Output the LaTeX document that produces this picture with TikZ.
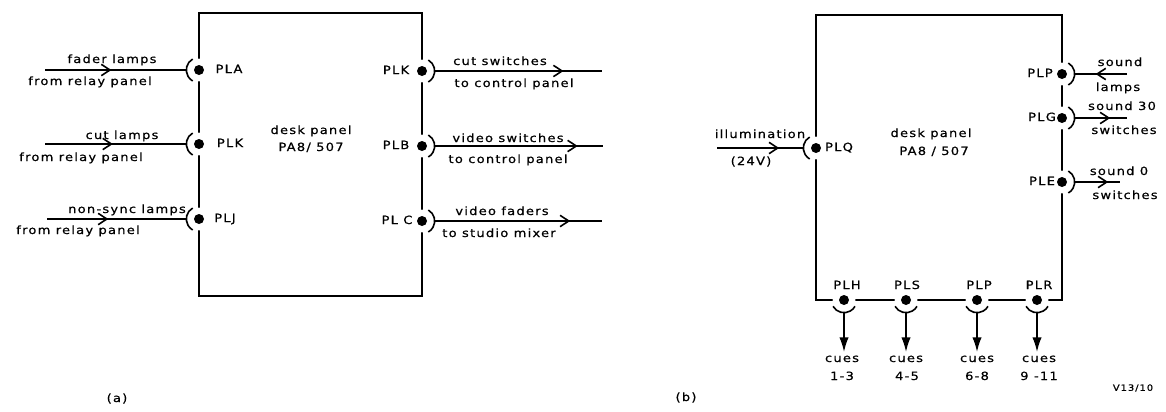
\documentclass[tikz,border=0pt]{standalone}
\usepackage{fontspec}
\newfontfamily\labfont[LetterSpace=11,FakeStretch=1.15,FakeBold=0.6]{DejaVu Sans}
\usetikzlibrary{arrows.meta,decorations.markings,calc}
\tikzset{
  wire/.style={line width=1.2pt},
  plug/.style={circle, fill=black, inner sep=0pt, minimum size=7.5pt, preaction={draw=white, line width=9pt}},
  lbl/.style={font=\labfont\fontsize{8.5}{10}\selectfont, inner sep=0pt, text height=6.5pt, text depth=2pt},
  tiny/.style={font=\labfont\fontsize{6.5}{8}\selectfont, inner sep=0pt},
  arr/.style={postaction={decorate}, decoration={markings, mark=at position #1 with {\arrow{Straight Barb[length=6.5pt,width=8.5pt,line width=1.2pt]}}}},
  downarr/.style={-{Latex[length=11pt,width=7pt]}},
  panel/.style={draw, line width=1.2pt, inner sep=0pt},
}
\begin{document}
\begin{tikzpicture}[x=0.75pt,y=0.75pt]
\useasboundingbox (0,0) rectangle (1166,-411);

% ---------- (a) ----------
\node[panel, minimum width=167.25pt, minimum height=212.25pt] (boxa) at (310.5,-154.5) {};
\node[plug] (pla) at (199,-70) {};
\node[plug] (plka) at (199,-144) {};
\node[plug] (plj) at (199,-219) {};
\node[plug] (plkb) at (422,-71) {};
\node[plug] (plb) at (422,-146) {};
\node[plug] (plc) at (422,-221) {};

\foreach \n in {pla,plka,plj}
  \draw[wire] ([shift={(120:9.5pt)}]\n.center) arc[start angle=120,end angle=240,radius=9.5pt];
\foreach \n in {plkb,plb,plc}
  \draw[wire] ([shift={(60:9.5pt)}]\n.center) arc[start angle=60,end angle=-60,radius=9.5pt];

\coordinate (pla-s) at (45,-70);
\coordinate (plka-s) at (45,-144);
\coordinate (plj-s) at (47,-219);
\coordinate (plkb-e) at (602,-71);
\coordinate (plb-e) at (603,-146);
\coordinate (plc-e) at (602,-221);
\draw[wire, arr=0.47] (pla-s) -- ([xshift=-9.5pt]pla.center);
\draw[wire, arr=0.48] (plka-s) -- ([xshift=-9.5pt]plka.center);
\draw[wire, arr=0.44] (plj-s) -- ([xshift=-9.5pt]plj.center);
\draw[wire, arr=0.77] ([xshift=9.5pt]plkb.center) -- (plkb-e);
\draw[wire, arr=0.85] ([xshift=9.5pt]plb.center) -- (plb-e);
\draw[wire, arr=0.81] ([xshift=9.5pt]plc.center) -- (plc-e);

\node[lbl] (ta1) at (112,-60) {fader lamps};
\node[lbl] (ta2) at (90,-82) {from relay panel};
\node[lbl] (ta3) at (122,-136) {cut lamps};
\node[lbl] (ta4) at (81,-158) {from relay panel};
\node[lbl] (ta5) at (127,-210) {non-sync lamps};
\node[lbl] (ta6) at (78,-231) {from relay panel};
\node[lbl] (la1) at (229,-70) {PLA};
\node[lbl] (la2) at (230,-144) {PLK};
\node[lbl] (la3) at (225,-219) {PLJ};
\node[lbl] (la4) at (396,-71) {PLK};
\node[lbl] (la5) at (396,-146) {PLB};
\node[lbl] (la6) at (397,-221) {PL C};
\node[lbl] (tb1) at (500,-62) {cut switches};
\node[lbl] (tb2) at (514,-84) {to control panel};
\node[lbl] (tb3) at (508,-139) {video switches};
\node[lbl] (tb4) at (508,-160) {to control panel};
\node[lbl] (tb5) at (502,-212) {video faders};
\node[lbl] (tb6) at (499,-234) {to studio mixer};
\node[lbl] (da1) at (311,-131) {desk panel};
\node[lbl] (da2) at (311,-148) {PA8/ 507};
\node[lbl] (capa) at (117,-399) {(a)};

% ---------- (b) ----------
\node[panel, minimum width=184.5pt, minimum height=213.75pt] (boxb) at (939,-157.5) {};
\node[plug] (plq) at (816,-148) {};
\node[plug] (plpr) at (1062,-74) {};
\node[plug] (plg) at (1062,-118) {};
\node[plug] (ple) at (1062,-182) {};
\node[plug] (plh) at (844,-300) {};
\node[plug] (pls) at (906,-300) {};
\node[plug] (plpb) at (977,-300) {};
\node[plug] (plr) at (1037,-300) {};

\draw[wire] ([shift={(120:9.5pt)}]plq.center) arc[start angle=120,end angle=240,radius=9.5pt];
\foreach \n in {plpr,plg,ple}
  \draw[wire] ([shift={(60:9.5pt)}]\n.center) arc[start angle=60,end angle=-60,radius=9.5pt];
\foreach \n in {plh,pls,plpb,plr}
  \draw[wire] ([shift={(210:9.5pt)}]\n.center) arc[start angle=210,end angle=330,radius=9.5pt];

\coordinate (plq-s) at (717,-148);
\coordinate (plpr-s) at (1127,-74);
\coordinate (plg-e) at (1127,-118);
\coordinate (ple-e) at (1120,-182);
\draw[wire, arr=0.72] (plq-s) -- ([xshift=-9.5pt]plq.center);
\draw[wire, arr=0.60] (plpr-s) -- ([xshift=9.5pt]plpr.center);
\draw[wire, arr=0.68] ([xshift=9.5pt]plg.center) -- (plg-e);
\draw[wire, arr=0.74] ([xshift=9.5pt]ple.center) -- (ple-e);

\coordinate (plh-e) at (844,-352);
\coordinate (pls-e) at (906,-352);
\coordinate (plpb-e) at (977,-352);
\coordinate (plr-e) at (1037,-352);
\foreach \n in {plh,pls,plpb,plr}
  \draw[wire, downarr] ([yshift=-9.5pt]\n.center) -- (\n-e);

\node[lbl] (tq1) at (760,-135) {illumination};
\node[lbl] (tq2) at (751,-162) {(24V)};
\node[lbl] (lq) at (839,-148) {PLQ};
\node[lbl] (db1) at (931,-134) {desk panel};
\node[lbl] (db2) at (934,-152) {PA8 / 507};
\node[lbl] (lp) at (1040,-74) {PLP};
\node[lbl] (lg) at (1042,-118) {PLG};
\node[lbl] (le) at (1042,-182) {PLE};
\node[lbl] (ts1) at (1120,-63) {sound};
\node[lbl] (ts2) at (1118,-88) {lamps};
\node[lbl] (ts3) at (1122,-107) {sound 30};
\node[lbl] (ts4) at (1124,-131) {switches};
\node[lbl] (ts5) at (1119,-172) {sound 0};
\node[lbl] (ts6) at (1125,-196) {switches};
\node[lbl] (lh) at (847,-286) {PLH};
\node[lbl] (ls) at (907,-286) {PLS};
\node[lbl] (lpb) at (979,-286) {PLP};
\node[lbl] (lr) at (1039,-286) {PLR};
\node[lbl] (c1) at (842,-359) {cues};
\node[lbl] (c2) at (906,-359) {cues};
\node[lbl] (c3) at (977,-359) {cues};
\node[lbl] (c4) at (1039,-359) {cues};
\node[lbl] (n1) at (842,-377) {1-3};
\node[lbl] (n2) at (907,-377) {4-5};
\node[lbl] (n3) at (977,-377) {6-8};
\node[lbl] (n4) at (1039,-377) {9 -11};
\node[tiny] (ref) at (1133,-388) {V13/10};
\node[lbl] (capb) at (686,-398) {(b)};
\end{tikzpicture}
\end{document}
